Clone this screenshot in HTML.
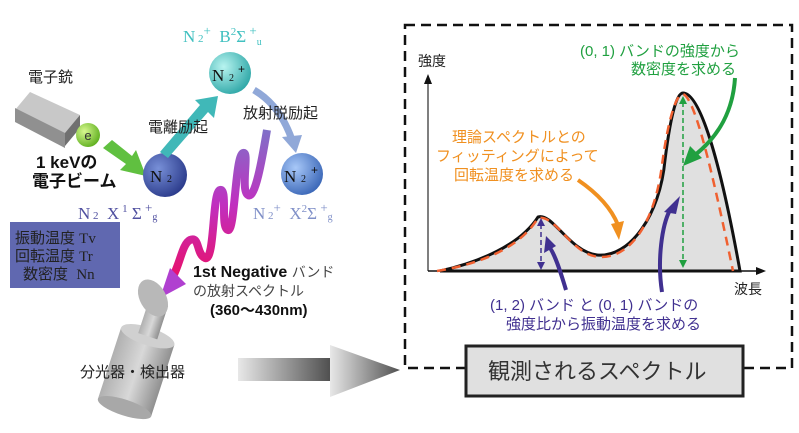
<!DOCTYPE html>
<html><head><meta charset="utf-8"><style>
html,body{margin:0;padding:0;background:#fff;}
svg{display:block;}
text{font-family:"Liberation Sans","Noto Sans CJK JP",sans-serif;white-space:pre;}
.s{font-family:"Liberation Serif","Noto Serif CJK SC",serif;}
</style></head><body>
<svg width="799" height="433" viewBox="0 0 799 433" xmlns="http://www.w3.org/2000/svg">
<defs>
<radialGradient id="gB" cx="0.35" cy="0.35" r="0.7"><stop offset="0" stop-color="#7890d8"/><stop offset="1" stop-color="#2c3c8c"/></radialGradient>
<radialGradient id="gC" cx="0.35" cy="0.35" r="0.7"><stop offset="0" stop-color="#b8f4f0"/><stop offset="1" stop-color="#30a8a8"/></radialGradient>
<radialGradient id="gL" cx="0.35" cy="0.35" r="0.7"><stop offset="0" stop-color="#a8c8f8"/><stop offset="1" stop-color="#3c68b8"/></radialGradient>
<radialGradient id="gE" cx="0.35" cy="0.35" r="0.7"><stop offset="0" stop-color="#d8f890"/><stop offset="1" stop-color="#60b020"/></radialGradient>
<linearGradient id="wave" x1="0" y1="0" x2="0" y2="1"><stop offset="0" stop-color="#8070c8"/><stop offset="0.5" stop-color="#c030c0"/><stop offset="1" stop-color="#e8106a"/></linearGradient>
<linearGradient id="ar" x1="0" y1="0" x2="1" y2="0"><stop offset="0" stop-color="#e8e8e8"/><stop offset="1" stop-color="#505050"/></linearGradient>
<linearGradient id="cyl" x1="0" y1="0" x2="1" y2="0"><stop offset="0" stop-color="#b0b0b0"/><stop offset="0.5" stop-color="#d8d8d8"/><stop offset="1" stop-color="#909090"/></linearGradient>
</defs>

<polygon points="15,110 30,92 80,115 65,135" fill="#c8c8c8"/>
<polygon points="15,108 65,133 65,148 15,122" fill="#909090"/>
<polygon points="65,133 80,115 80,128 65,146" fill="#707070"/>
<text x="28" y="82" font-size="15" fill="#222">電子銃</text>
<circle cx="88" cy="135" r="12" fill="url(#gE)"/>
<text x="88" y="140" font-size="13" text-anchor="middle" fill="#333">e</text>
<polygon points="103,148 112,140 132,156 136,150 146,176 120,170 126,164" fill="#60c040"/>
<text x="36" y="168" font-size="17" font-weight="bold" fill="#111">1 keVの</text>
<text x="32" y="187" font-size="17" font-weight="bold" fill="#111">電子ビーム</text>

<circle cx="165" cy="175" r="22" fill="url(#gB)"/>
<text x="150" y="182" font-size="17" class="s" fill="#111">N</text><text x="167" y="182" font-size="10" class="s" fill="#111">2</text>
<polygon points="160,152 200,105 195,100 218,96 214,118 208,112 168,158" fill="#40b8b8"/>
<text x="148" y="132" font-size="15" fill="#222">電離励起</text>
<circle cx="230" cy="73" r="21" fill="url(#gC)"/>
<text x="212" y="81" font-size="17" class="s" fill="#111">N</text><text x="229" y="81" font-size="10" class="s" fill="#111">2</text><text x="238" y="73" font-size="12" fill="#111">+</text>
<text x="183" y="42" font-size="17" class="s" fill="#40c0c0">N<tspan font-size="11"> 2</tspan><tspan dy="-7" font-size="13">+</tspan><tspan dy="7">  B</tspan><tspan dy="-7" font-size="11">2</tspan><tspan dy="7">Σ</tspan><tspan dy="-7" font-size="13"> +</tspan><tspan dy="10" font-size="10">u</tspan></text>
<path d="M254,90 Q280,105 292,140" stroke="#90a8d8" stroke-width="7" fill="none"/>
<polygon points="282,137 302,135 296,153" fill="#90a8d8"/>
<text x="243" y="118" font-size="15" fill="#222">放射脱励起</text>
<circle cx="302" cy="174" r="21" fill="url(#gL)"/>
<text x="284" y="182" font-size="17" class="s" fill="#111">N</text><text x="301" y="182" font-size="10" class="s" fill="#111">2</text><text x="311" y="174" font-size="12" fill="#111">+</text>
<text x="78" y="219" font-size="17" class="s" fill="#5050a0">N<tspan font-size="11"> 2</tspan><tspan>  X</tspan><tspan dy="-7" font-size="11"> 1</tspan><tspan dy="7"> Σ</tspan><tspan dy="-7" font-size="13"> +</tspan><tspan dy="8" font-size="10">g</tspan></text>
<text x="253" y="219" font-size="17" class="s" fill="#8090c8">N<tspan font-size="11"> 2</tspan><tspan dy="-7" font-size="13">+</tspan><tspan dy="7">  X</tspan><tspan dy="-7" font-size="11">2</tspan><tspan dy="7">Σ</tspan><tspan dy="-7" font-size="13"> +</tspan><tspan dy="8" font-size="10">g</tspan></text>

<path d="M267,130 C262,160 255,200 248,195 C240,190 250,150 243,153 C235,156 235,232 228,230 C220,228 228,188 220,190 C212,192 215,262 205,258 C196,254 200,236 190,240 C182,244 180,265 172,278" stroke="url(#wave)" stroke-width="8" fill="none" stroke-linejoin="round"/>
<polygon points="160,298 170,268 186,284" fill="#b040d0"/>

<rect x="10" y="222" width="110" height="66" fill="#6068b0"/>
<text x="15" y="243" font-size="15" fill="#222">振動温度 <tspan class="s">Tv</tspan></text>
<text x="15" y="261" font-size="15" fill="#222">回転温度 <tspan class="s">Tr</tspan></text>
<text x="23" y="279" font-size="15" fill="#222">数密度  <tspan class="s">Nn</tspan></text>

<text x="193" y="277" font-size="16" font-weight="bold" fill="#111">1st Negative <tspan font-weight="normal" font-size="14" fill="#444">バンド</tspan></text>
<text x="193" y="296" font-size="14" fill="#444">の放射スペクトル</text>
<text x="210" y="315" font-size="15" font-weight="bold" fill="#111">(360～430nm)</text>

<g transform="rotate(18 140 360)">
<rect x="112" y="335" width="56" height="75" fill="url(#cyl)"/>
<ellipse cx="140" cy="335" rx="28" ry="9" fill="#d0d0d0"/>
<ellipse cx="140" cy="410" rx="28" ry="8" fill="#a8a8a8"/>
<rect x="130" y="300" width="20" height="35" fill="url(#cyl)"/>
</g>
<ellipse cx="153" cy="298" rx="13" ry="20" fill="#b8b8b8" transform="rotate(-30 153 298)"/>
<text x="80" y="377" font-size="15" fill="#222">分光器・検出器</text>

<rect x="238" y="358" width="92" height="23" fill="url(#ar)"/>
<polygon points="330,345 330,397 400,370" fill="url(#ar)"/>

<rect x="405" y="25" width="387" height="343" fill="none" stroke="#111" stroke-width="2.5" stroke-dasharray="10,6"/>
<line x1="428" y1="271" x2="428" y2="82" stroke="#555" stroke-width="1.5"/>
<polygon points="424,84 432,84 428,74" fill="#111"/>
<line x1="428" y1="271" x2="758" y2="271" stroke="#111" stroke-width="1.5"/>
<polygon points="756,267 756,275 766,271" fill="#111"/>
<text x="418" y="66" font-size="14" fill="#222">強度</text>
<text x="734" y="294" font-size="14" fill="#222">波長</text>

<path d="M440,271 C480,262 520,245 538,217 C552,212 570,252 597,255 C630,258 660,215 665,160 C670,120 676,93 683,93 C700,93 720,160 740,271 Z" fill="#e0e0e0" stroke="#111" stroke-width="3"/>
<path d="M437,271 C480,264 520,248 538,218 C556,214 572,256 600,257 C632,258 655,220 662,165 C668,120 676,94 683,94 C695,98 712,170 733,271" fill="none" stroke="#f06030" stroke-width="2.5" stroke-dasharray="9,6"/>
<line x1="541" y1="224" x2="541" y2="265" stroke="#403090" stroke-width="1.5" stroke-dasharray="5,3"/>
<polygon points="537,226 545,226 541,218" fill="#403090"/><polygon points="537,262 545,262 541,270" fill="#403090"/>
<line x1="683" y1="102" x2="683" y2="262" stroke="#20a040" stroke-width="1.5" stroke-dasharray="5,3"/>
<polygon points="679,104 687,104 683,96" fill="#20a040"/><polygon points="679,260 687,260 683,268" fill="#20a040"/>

<path d="M735,78 C733,110 720,135 695,155" stroke="#20a040" stroke-width="4" fill="none"/>
<polygon points="683,166 690,146 702,158" fill="#20a040"/>
<path d="M578,180 C600,195 612,210 618,225" stroke="#f09020" stroke-width="4" fill="none"/>
<polygon points="611,224 624,221 619,240" fill="#f09020"/>
<path d="M566,290 C560,270 555,255 550,248" stroke="#403090" stroke-width="4" fill="none"/>
<polygon points="544,253 556,246 546,236" fill="#403090"/>
<path d="M662,292 C657,260 662,225 670,210" stroke="#403090" stroke-width="4" fill="none"/>
<polygon points="664,212 676,214 680,196" fill="#403090"/>

<text x="580" y="56" font-size="15" fill="#20a040">(0, 1) バンドの強度から</text>
<text x="631" y="74" font-size="15" fill="#20a040">数密度を求める</text>
<text x="452" y="142" font-size="15" fill="#f09020">理論スペクトルとの</text>
<text x="436" y="161" font-size="15" fill="#f09020">フィッティングによって</text>
<text x="454" y="180" font-size="15" fill="#f09020">回転温度を求める</text>
<text x="490" y="310" font-size="15" fill="#403090">(1, 2) バンド と (0, 1) バンドの</text>
<text x="506" y="329" font-size="15" fill="#403090">強度比から振動温度を求める</text>

<rect x="466" y="346" width="277" height="50" fill="#e0e0e0" stroke="#222" stroke-width="3"/>
<text x="488" y="379" font-size="22" fill="#333">観測されるスペクトル</text>
</svg>
</body></html>
